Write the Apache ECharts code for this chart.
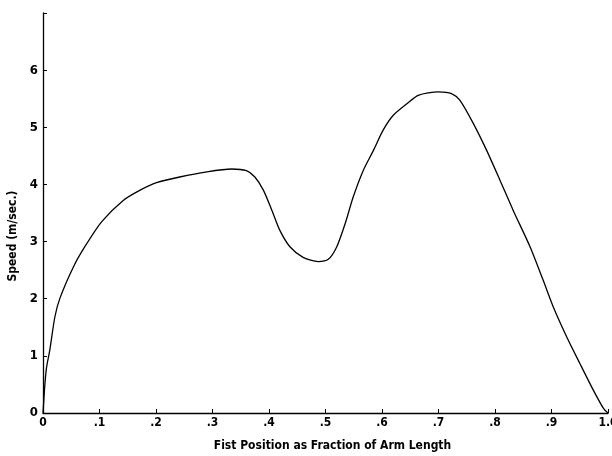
<!DOCTYPE html>
<html>
<head>
<meta charset="utf-8">
<script src="https://cdn.jsdelivr.net/npm/echarts@6/dist/echarts.min.js"></script>
<style>
  html, body { margin: 0; padding: 0; background: #fff; }
  #chart { width: 612px; height: 456px; }
</style>
</head>
<body>
<div id="chart"></div>
<script>
// fist position (fraction of arm length) and speed (m/sec)
const position = [0, 0.0035, 0.0065, 0.012, 0.021, 0.030, 0.054, 0.074, 0.104, 0.142, 0.172, 0.201, 0.242, 0.290, 0.334, 0.360, 0.375, 0.390, 0.405, 0.419, 0.437, 0.461, 0.487, 0.505, 0.520, 0.535, 0.549, 0.567, 0.585, 0.602, 0.620, 0.644, 0.664, 0.700, 0.723, 0.738, 0.762, 0.785, 0.809, 0.832, 0.862, 0.885, 0.903, 0.927, 0.950, 0.974, 0.992, 1.0]
const speed = [0, 0.52, 0.81, 1.10, 1.68, 2.01, 2.56, 2.91, 3.35, 3.72, 3.90, 4.03, 4.13, 4.22, 4.27, 4.24, 4.13, 3.90, 3.55, 3.20, 2.91, 2.72, 2.65, 2.69, 2.91, 3.32, 3.78, 4.25, 4.60, 4.95, 5.21, 5.41, 5.56, 5.62, 5.59, 5.47, 5.06, 4.60, 4.07, 3.55, 2.91, 2.33, 1.86, 1.33, 0.87, 0.40, 0.08, 0]

const xTickLabels = ['0', '.1', '.2', '.3', '.4', '.5', '.6', '.7', '.8', '.9', '1.0']
const yTickLabels = ['0', '1', '2', '3', '4', '5', '6', '']

const font = "'Liberation Sans Narrow', 'DejaVu Sans Condensed', sans-serif"

const chart = echarts.init(document.getElementById('chart'))
chart.setOption({
  animation: false,
  grid: { left: 43, right: 4, top: 13, bottom: 43, outerBoundsMode: 'none' },
  xAxis: {
    type: 'value',
    min: 0,
    max: 1,
    interval: 0.1,
    name: 'Fist Position as Fraction of Arm Length',
    nameLocation: 'middle',
    nameGap: 27,
    nameTextStyle: { color: '#000', fontFamily: font, fontWeight: 'bold', fontSize: 12, padding: [0, 0, 0, 14] },
    axisLine: { lineStyle: { color: '#000', width: 1.3 } },
    axisTick: { inside: true, length: 4, lineStyle: { color: '#000' } },
    axisLabel: {
      color: '#000',
      fontFamily: font,
      fontWeight: 'bold',
      fontSize: 12,
      margin: 4,
      formatter: (v) => xTickLabels[Math.round(v * 10)]
    },
    splitLine: { show: false }
  },
  yAxis: {
    type: 'value',
    min: 0,
    max: 7,
    interval: 1,
    name: 'Speed (m/sec.)',
    nameLocation: 'middle',
    nameGap: 19,
    nameTextStyle: { color: '#000', fontFamily: font, fontWeight: 'bold', fontSize: 12, padding: [0, 46, 0, 0] },
    axisLine: { show: true, lineStyle: { color: '#000', width: 1.3 } },
    axisTick: { show: true, inside: true, length: 4, lineStyle: { color: '#000' } },
    axisLabel: {
      color: '#000',
      fontFamily: font,
      fontWeight: 'bold',
      fontSize: 13,
      margin: 5,
      formatter: (v) => yTickLabels[Math.round(v)]
    },
    splitLine: { show: false }
  },
  series: [
    {
      type: 'line',
      data: position.map((p, i) => [p, speed[i]]),
      smooth: 0.25,
      showSymbol: false,
      lineStyle: { color: '#000', width: 1.3 }
    }
  ]
})
</script>
</body>
</html>
